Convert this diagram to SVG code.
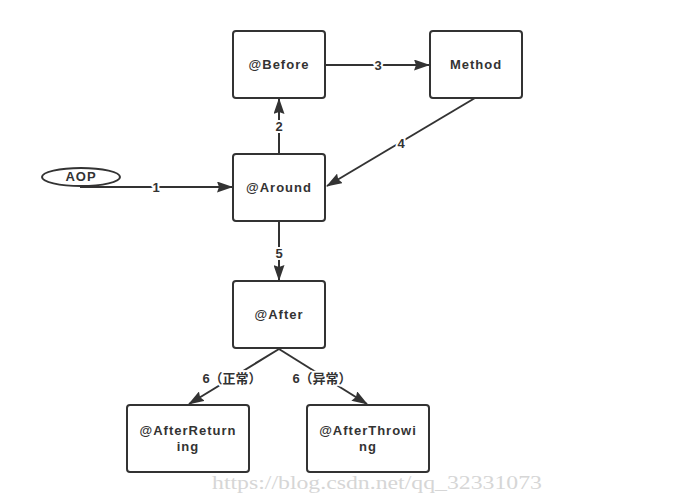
<svg xmlns="http://www.w3.org/2000/svg" width="697" height="503" viewBox="0 0 697 503">
<style>
.box{fill:#fff;stroke:#333;stroke-width:2}
.t{font-family:"Liberation Sans",Arial,sans-serif;font-weight:bold;font-size:13px;fill:#333;letter-spacing:1px;text-anchor:middle}
.e{fill:none;stroke:#333;stroke-width:2}
.lb{font-family:"Liberation Sans","Noto Sans CJK SC",sans-serif;font-weight:bold;font-size:13px;fill:#333;text-anchor:middle;stroke:#fff;stroke-width:4px;paint-order:stroke;stroke-linejoin:round}
.wm{font-family:"Liberation Serif",serif;font-size:18px;fill:#d6d6d6}
</style>
<defs>
<marker id="arr" viewBox="0 0 16 11" refX="15" refY="5.5" markerWidth="16" markerHeight="11" markerUnits="userSpaceOnUse" orient="auto">
<path d="M0,0 L16,5.5 L0,11 L2,5.5 z" fill="#333"/>
</marker>
</defs>
<rect width="697" height="503" fill="#fff"/>
<g id="connectors">
<path class="e" d="M80,187 L232,187" marker-end="url(#arr)"/>
<text class="lb" x="156" y="192">1</text>
<path class="e" d="M279,154 L279,99" marker-end="url(#arr)"/>
<text class="lb" x="279" y="131">2</text>
<path class="e" d="M325,65 L429,65" marker-end="url(#arr)"/>
<text class="lb" x="378" y="70">3</text>
<path class="e" d="M475,98 L327,186" marker-end="url(#arr)"/>
<text class="lb" x="401" y="148">4</text>
<path class="e" d="M279,222 L279,280" marker-end="url(#arr)"/>
<text class="lb" x="279" y="258">5</text>
<path class="e" d="M279,349 L189,404" marker-end="url(#arr)"/>
<text class="lb" x="232" y="383">6（正常）</text>
<path class="e" d="M279,349 L367,404" marker-end="url(#arr)"/>
<text class="lb" x="322" y="383">6（异常）</text>
</g>
<g id="aop">
<ellipse cx="81" cy="177" rx="39" ry="9" fill="#fff" stroke="#333" stroke-width="2"/>
<text class="t" x="81" y="181">AOP</text>
</g>
<g id="before">
<rect class="box" x="233" y="31" width="92" height="67" rx="3"/>
<text class="t" x="279" y="69">@Before</text>
</g>
<g id="method">
<rect class="box" x="430" y="31" width="92" height="67" rx="3"/>
<text class="t" x="476" y="69">Method</text>
</g>
<g id="around">
<rect class="box" x="233" y="154" width="92" height="67" rx="3"/>
<text class="t" x="279" y="192">@Around</text>
</g>
<g id="after">
<rect class="box" x="233" y="281" width="92" height="67" rx="3"/>
<text class="t" x="279" y="319">@After</text>
</g>
<g id="afterReturning">
<rect class="box" x="127" y="405" width="122" height="67" rx="3"/>
<text class="t" x="188" y="435">@AfterReturn</text>
<text class="t" x="188" y="451">ing</text>
</g>
<g id="afterThrowing">
<rect class="box" x="307" y="405" width="122" height="67" rx="3"/>
<text class="t" x="368" y="435">@AfterThrowi</text>
<text class="t" x="368" y="451">ng</text>
</g>
<text class="wm" x="212" y="489" textLength="330" lengthAdjust="spacingAndGlyphs">https://blog.csdn.net/qq_32331073</text>
</svg>
